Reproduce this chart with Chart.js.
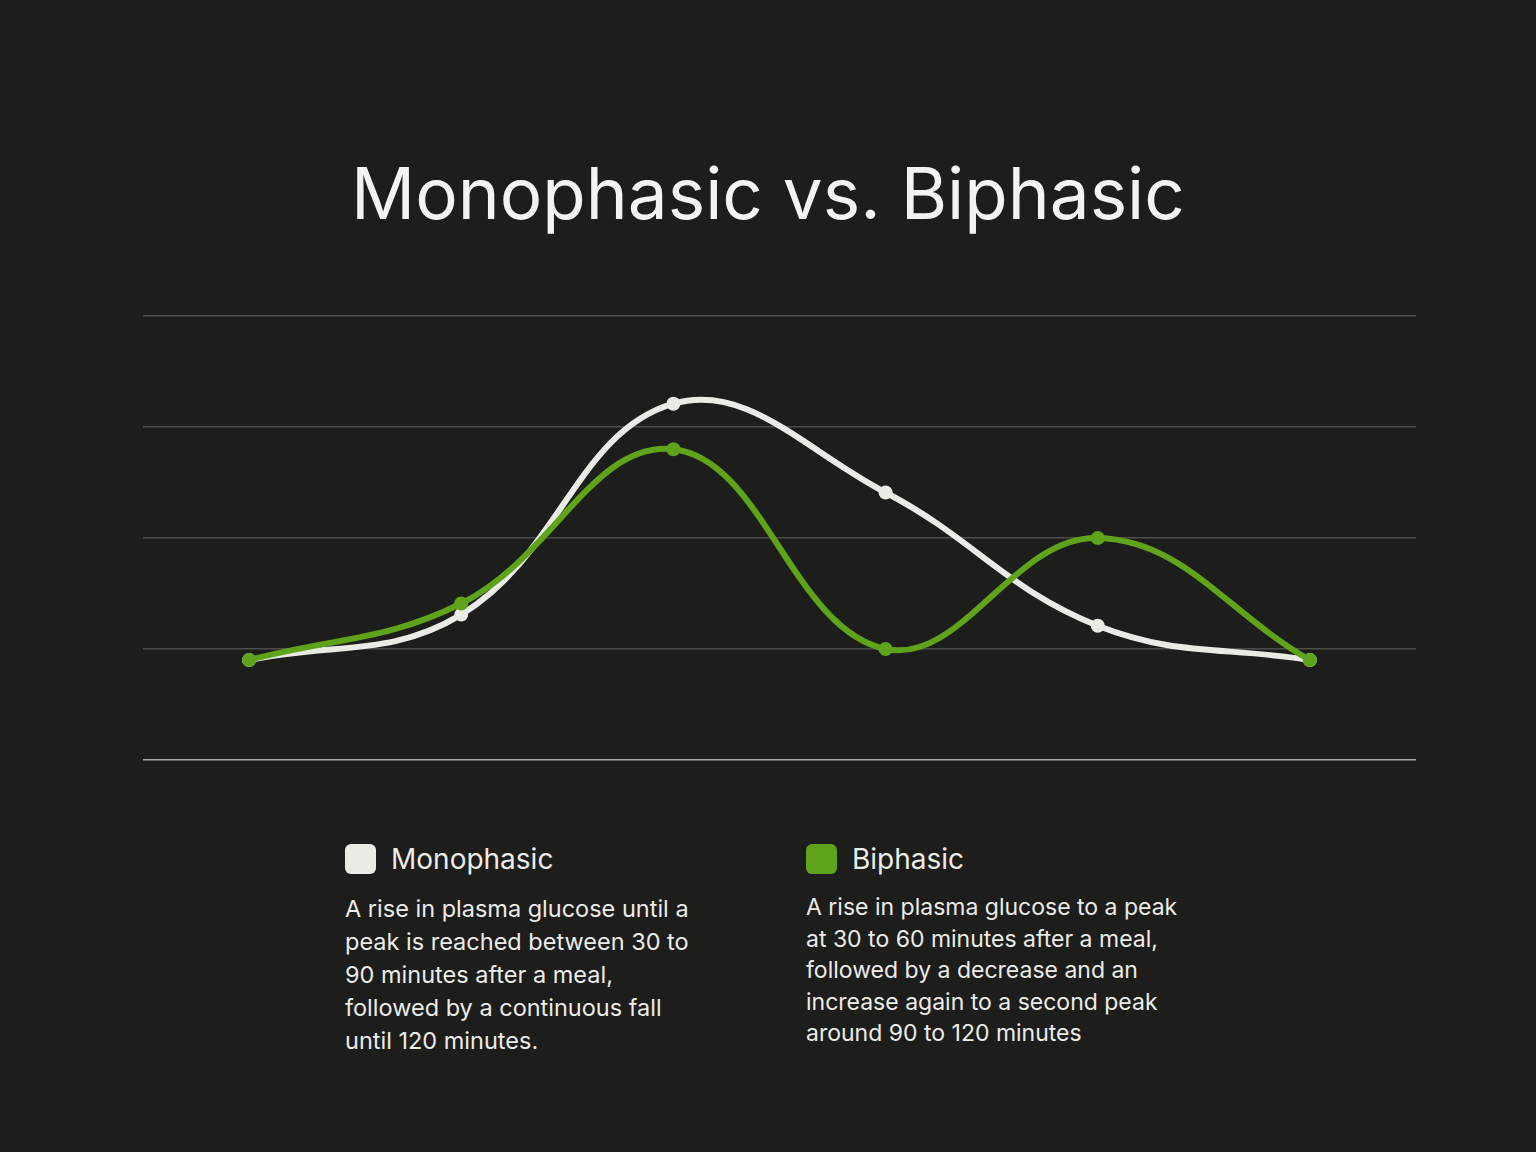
<!DOCTYPE html>
<html>
<head>
<meta charset="utf-8">
<script src="https://cdn.jsdelivr.net/npm/chart.js@4.4.0/dist/chart.umd.min.js"></script>
<style>
  html, body { margin: 0; padding: 0; background: #1d1d1c; }
  body { width: 1536px; height: 1152px; position: relative; overflow: hidden; font-family: Inter, "Noto Sans", sans-serif; color: #ecece8; }
  .title { position: absolute; top: 150px; left: 0; width: 1536px; text-align: center; font-size: 71px; font-weight: 400; color: #f3f3f0; }
  .chart-box { position: absolute; left: 133px; top: 306px; width: 1293px; height: 464px; }
  .legend { position: absolute; top: 843px; }
  .legend .head { display: flex; align-items: center; font-size: 28px; height: 32px; }
  .legend .sw { width: 31px; height: 30px; border-radius: 6px; margin-right: 15px; }
  .legend p { margin: 17px 0 0 0; }
</style>
</head>
<body>
<div class="title">Monophasic vs. Biphasic</div>
<div class="chart-box"><canvas id="lineChart"></canvas></div>

<div class="legend" style="left:345px;">
  <div class="head"><div class="sw" style="background:#ebebe6;"></div>Monophasic</div>
  <p style="font-size:23.5px; line-height:33px;">A rise in plasma glucose until a<br>peak is reached between 30 to<br>90 minutes after a meal,<br>followed by a continuous fall<br>until 120 minutes.</p>
</div>
<div class="legend" style="left:806px;">
  <div class="head"><div class="sw" style="background:#5fa31b;"></div>Biphasic</div>
  <p style="font-size:23px; line-height:31.5px;">A rise in plasma glucose to a peak<br>at 30 to 60 minutes after a meal,<br>followed by a decrease and an<br>increase again to a second peak<br>around 90 to 120 minutes</p>
</div>

<script>
// time points after a meal
const minutes = ['0', '30', '60', '90', '120', '150'];
const monophasic = [0.90, 1.31, 3.21, 2.41, 1.21, 0.90];
const biphasic = [0.90, 1.41, 2.80, 1.00, 2.00, 0.90];
const yTicks = [0, 1, 2, 3, 4];

const ctx = document.getElementById('lineChart').getContext('2d');
new Chart(ctx, {
  type: 'line',
  data: {
    labels: minutes,
    datasets: [
      {
        label: 'Monophasic',
        data: monophasic,
        borderColor: '#ebebe6',
        backgroundColor: '#ebebe6',
        borderWidth: 6,
        pointRadius: 7,
        pointBorderWidth: 0,
        tension: 0.4,
        order: 2,
      },
      {
        label: 'Biphasic',
        data: biphasic,
        borderColor: '#5fa31b',
        backgroundColor: '#5fa31b',
        borderWidth: 6,
        pointRadius: 7,
        pointBorderWidth: 0,
        tension: 0.4,
        order: 1,
      },
    ],
  },
  options: {
    responsive: true,
    maintainAspectRatio: false,
    animation: false,
    layout: { padding: 10 },
    plugins: {
      legend: { display: false },
      tooltip: { enabled: false },
    },
    scales: {
      x: {
        display: false,
        offset: true,
      },
      y: {
        min: yTicks[0],
        max: yTicks[yTicks.length - 1],
        ticks: { display: false, stepSize: 1 },
        border: { display: false },
        grid: {
          drawTicks: false,
          lineWidth: 1.5,
          color: (c) => (c.tick && c.tick.value === 0 ? '#a8a8a4' : '#4d4d4b'),
        },
      },
    },
  },
});
</script>
</body>
</html>
